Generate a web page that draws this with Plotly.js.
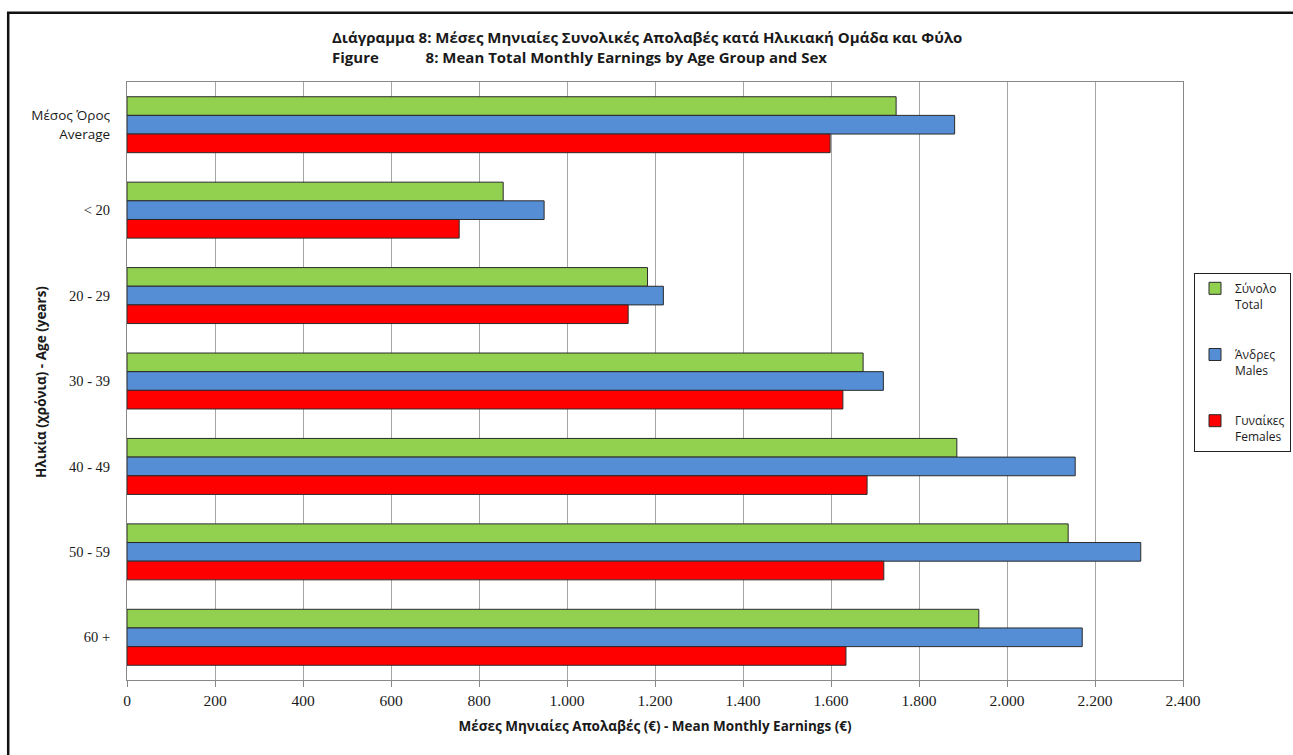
<!DOCTYPE html>
<html>
<head>
<meta charset="utf-8">
<script src="https://cdn.plot.ly/plotly-3.0.1.min.js"></script>
<style>
html,body{margin:0;padding:0;background:#fff;}
#chart{width:1293px;height:755px;}
</style>
</head>
<body>
<div id="chart"></div>
<script>
var categories = ["Μέσος Όρος<br>Average", "< 20", "20 - 29", "30 - 39", "40 - 49", "50 - 59", "60 +"];
var totalValues = [1748, 855, 1183, 1673, 1886, 2139, 1936];
var maleValues = [1881, 948, 1219, 1719, 2155, 2304, 2171];
var femaleValues = [1598, 755, 1139, 1627, 1682, 1720, 1634];
var seriesNames = ["Σύνολο<br>Total", "Άνδρες<br>Males", "Γυναίκες<br>Females"];
var xTickValues = [0, 200, 400, 600, 800, 1000, 1200, 1400, 1600, 1800, 2000, 2200, 2400];
var xTickLabels = ["0", "200", "400", "600", "800", "1.000", "1.200", "1.400", "1.600", "1.800", "2.000", "2.200", "2.400"];

var colors = ["#92D050", "#558ED5", "#FF0000"];
var seriesData = [totalValues, maleValues, femaleValues];

var traces = seriesData.map(function (vals, i) {
  return {
    type: "bar",
    orientation: "h",
    y: categories,
    x: vals,
    name: seriesNames[i],
    legendgroup: "g" + i,
    marker: { color: colors[i], line: { color: "#2b2b2b", width: 1 } },
    hoverinfo: "x+y+name"
  };
});

// display labels for the category axis (first one drawn in a sans face, like the original)
var yTickText = categories.map(function (c, i) {
  return i === 0 ? '<span style="font-family:Open Sans, sans-serif;font-size:13.5px">' + c + '</span>' : c;
});

var layout = {
  width: 1293,
  height: 755,
  margin: { l: 127, r: 110, t: 82, b: 75, autoexpand: false },
  paper_bgcolor: "#ffffff",
  plot_bgcolor: "#ffffff",
  barmode: "group",
  bargap: 0.345,
  bargroupgap: 0,
  font: { family: "Open Sans, sans-serif", color: "#1a1a1a" },
  xaxis: {
    range: [0, 2400],
    tickvals: xTickValues,
    ticktext: xTickLabels,
    tickfont: { family: "Liberation Serif, serif", size: 15.5, color: "#1a1a1a" },
    ticks: "outside",
    ticklen: 6,
    tickcolor: "#888",
    ticklabelstandoff: 0,
    showgrid: true,
    gridcolor: "#a6a6a6",
    gridwidth: 1,
    showline: true,
    linecolor: "#888",
    linewidth: 1,
    mirror: true,
    zeroline: false,
    title: {
      text: "Μέσες Μηνιαίες Απολαβές (€) - Mean Monthly Earnings (€)",
      font: { family: "Open Sans, sans-serif", size: 13.5, color: "#1a1a1a", weight: "bold" },
      standoff: 13
    },
    fixedrange: true
  },
  yaxis: {
    autorange: "reversed",
    type: "category",
    tickvals: categories,
    ticktext: yTickText,
    tickfont: { family: "Liberation Serif, serif", size: 14.5, color: "#1a1a1a" },
    ticks: "",
    ticklabelstandoff: 13,
    showline: true,
    linecolor: "#888",
    linewidth: 1,
    mirror: true,
    showgrid: false,
    fixedrange: true
  },
  legend: {
    xref: "container",
    yref: "container",
    x: 1291 / 1293,
    xanchor: "right",
    y: 1 - 273 / 755,
    yanchor: "top",
    bgcolor: "#ffffff",
    bordercolor: "#222",
    borderwidth: 1,
    font: { family: "Open Sans, sans-serif", size: 12, color: "#1a1a1a" },
    traceorder: "grouped",
    tracegroupgap: 32,
    valign: "top",
    itemwidth: 30
  },
  showlegend: true,
  annotations: [
    {
      xref: "paper", yref: "paper",
      x: (330 - 127) / 1056, xanchor: "left",
      y: (680 - 25) / 598, yanchor: "top",
      align: "left",
      showarrow: false,
      text: "Διάγραμμα 8: Μέσες Μηνιαίες Συνολικές Απολαβές κατά Ηλικιακή Ομάδα και Φύλο<br>Figure\u00a0\u00a0\u00a0\u00a0\u00a0\u00a0\u00a0\u00a0\u00a0\u00a0\u00a0\u00a08: Mean Total Monthly Earnings by Age Group and Sex",
      font: { family: "Open Sans, sans-serif", size: 15, color: "#1a1a1a", weight: "bold" }
    },
    {
      xref: "paper", yref: "paper",
      x: (41 - 127) / 1056, xanchor: "center",
      y: (680 - 382) / 598, yanchor: "middle",
      textangle: -90,
      showarrow: false,
      text: "Ηλικία (χρόνια) - Age (years)",
      font: { family: "Open Sans, sans-serif", size: 13.5, color: "#1a1a1a", weight: "bold" }
    }
  ],
  shapes: [
    {
      type: "rect", xref: "paper", yref: "paper",
      x0: -0.1125, x1: 1.2, y0: -0.3, y1: 1.116,
      line: { color: "#111", width: 2.5 },
      fillcolor: "rgba(0,0,0,0)",
      layer: "below"
    }
  ]
};

Plotly.newPlot("chart", traces, layout, { displayModeBar: false, staticPlot: true });
</script>
</body>
</html>
